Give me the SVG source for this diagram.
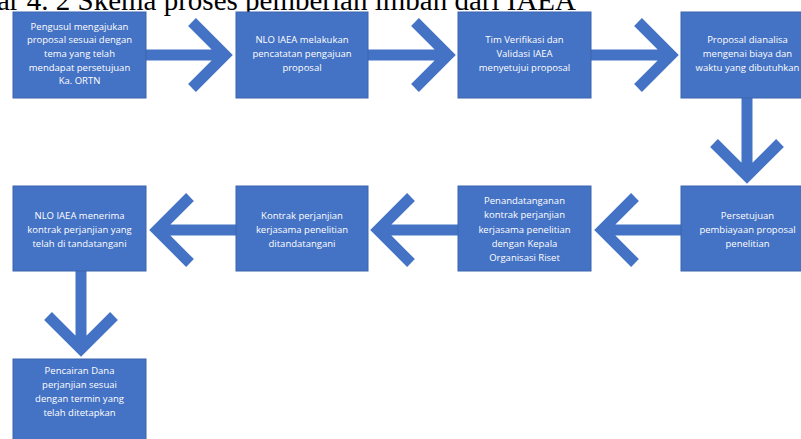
<svg xmlns="http://www.w3.org/2000/svg" width="801" height="439" viewBox="0 0 801 439">
<style>
.box{fill:#4472C4;stroke:#3b64ae;stroke-width:1}
.t{font-family:"Open Sans","Noto Sans",sans-serif;font-size:9.5px;fill:#ffffff;text-anchor:middle}
.arr{fill:none;stroke:#4472C4;stroke-width:11;stroke-linejoin:miter;stroke-miterlimit:10;stroke-linecap:butt}
.title{font-family:"Liberation Serif","Times New Roman",serif;font-size:29px;fill:#000}
</style>
<rect width="801" height="439" fill="#ffffff"/>
<text class="title" x="-3" y="9.5">ar 4. 2 Skema proses pemberian imban dari IAEA</text>
<g id="connectors">
<path class="arr" d="M146 55 H225 M192 22 L225 55 L192 88"/>
<path class="arr" d="M368 55 H448 M415 22 L448 55 L415 88"/>
<path class="arr" d="M591 55 H671 M638 22 L671 55 L638 88"/>
<path class="arr" d="M747 98 V176 M714 143 L747 176 L780 143"/>
<path class="arr" d="M681 230 H602 M635 197 L602 230 L635 263"/>
<path class="arr" d="M458 230 H378 M411 197 L378 230 L411 263"/>
<path class="arr" d="M236 230 H157 M190 197 L157 230 L190 263"/>
<path class="arr" d="M81 271 V349 M48 316 L81 349 L114 316"/>
</g>
<g id="n1"><rect class="box" x="13" y="12" width="133" height="86"/>
<text class="t" x="79.5" y="29.5">Pengusul mengajukan</text>
<text class="t" x="79.5" y="43">proposal sesuai dengan</text>
<text class="t" x="79.5" y="57">tema yang telah</text>
<text class="t" x="79.5" y="70.5">mendapat persetujuan</text>
<text class="t" x="79.5" y="84">Ka. ORTN</text></g>
<g id="n2"><rect class="box" x="236" y="12" width="132" height="86"/>
<text class="t" x="302" y="43">NLO IAEA melakukan</text>
<text class="t" x="302" y="56.5">pencatatan pengajuan</text>
<text class="t" x="302" y="70.5">proposal</text></g>
<g id="n3"><rect class="box" x="458" y="12" width="133" height="86"/>
<text class="t" x="524.5" y="43">Tim Verifikasi dan</text>
<text class="t" x="524.5" y="56.5">Validasi IAEA</text>
<text class="t" x="524.5" y="70.5">menyetujui proposal</text></g>
<g id="n4"><rect class="box" x="681" y="12" width="133" height="86"/>
<text class="t" x="747.5" y="43">Proposal dianalisa</text>
<text class="t" x="747.5" y="56.5">mengenai biaya dan</text>
<text class="t" x="747.5" y="70.5">waktu yang dibutuhkan</text></g>
<g id="n5"><rect class="box" x="681" y="186" width="133" height="85"/>
<text class="t" x="747.5" y="218.5">Persetujuan</text>
<text class="t" x="747.5" y="232.5">pembiayaan proposal</text>
<text class="t" x="747.5" y="246.5">penelitian</text></g>
<g id="n6"><rect class="box" x="458" y="186" width="133" height="85"/>
<text class="t" x="524.5" y="204">Penandatanganan</text>
<text class="t" x="524.5" y="218">kontrak perjanjian</text>
<text class="t" x="524.5" y="232.5">kerjasama penelitian</text>
<text class="t" x="524.5" y="246.5">dengan Kepala</text>
<text class="t" x="524.5" y="260.5">Organisasi Riset</text></g>
<g id="n7"><rect class="box" x="236" y="186" width="132" height="85"/>
<text class="t" x="302" y="218.5">Kontrak perjanjian</text>
<text class="t" x="302" y="232.5">kerjasama penelitian</text>
<text class="t" x="302" y="246.5">ditandatangani</text></g>
<g id="n8"><rect class="box" x="13" y="186" width="133" height="85"/>
<text class="t" x="79.5" y="218.5">NLO IAEA menerima</text>
<text class="t" x="79.5" y="232.5">kontrak perjanjian yang</text>
<text class="t" x="79.5" y="246.5">telah di tandatangani</text></g>
<g id="n9"><rect class="box" x="13" y="359" width="133" height="90"/>
<text class="t" x="79.5" y="374">Pencairan Dana</text>
<text class="t" x="79.5" y="388">perjanjian sesuai</text>
<text class="t" x="79.5" y="402">dengan termin yang</text>
<text class="t" x="79.5" y="416">telah ditetapkan</text></g>
</svg>
